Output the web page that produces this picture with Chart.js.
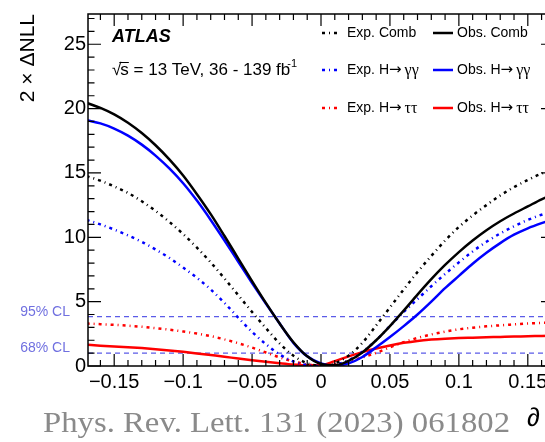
<!DOCTYPE html>
<html>
<head>
<meta charset="utf-8">
<script src="https://cdn.jsdelivr.net/npm/chart.js"></script>
<style>
html, body { margin: 0; padding: 0; overflow: hidden; background: #fff; }
#wrap { position: relative; width: 600px; height: 442px; }
</style>
</head>
<body>
<div id="wrap"><canvas id="nllChart" width="600" height="442"></canvas></div>
<script>
// scan points (x axis)
const xValues = [-0.17, -0.16, -0.15, -0.14, -0.13, -0.12, -0.11, -0.10, -0.09, -0.08, -0.07, -0.06,
    -0.05, -0.04, -0.03, -0.02, -0.01, 0.00, 0.01, 0.02, 0.03, 0.04, 0.05, 0.06, 0.07, 0.08, 0.09,
    0.10, 0.11, 0.12, 0.13, 0.14, 0.15, 0.16, 0.17];

// 2 x deltaNLL
const expComb = [14.75, 14.4, 13.95, 13.45, 12.8, 12.05, 11.2, 10.25, 9.2, 8.05, 6.8, 5.5,
    4.2, 2.95, 1.75, 0.8, 0.22, 0.0, 0.2, 0.8, 1.8, 3.15, 4.55, 5.95, 7.3, 8.55, 9.75,
    10.8, 11.7, 12.5, 13.25, 13.9, 14.45, 14.95, 15.3];
const obsComb = [20.45, 20.05, 19.55, 18.9, 18.1, 17.15, 16.05, 14.8, 13.35, 11.8, 10.1, 8.35,
    6.6, 4.9, 3.3, 1.85, 0.75, 0.15, 0.05, 0.4, 1.05, 2.0, 3.1, 4.3, 5.55, 6.75, 7.85,
    8.85, 9.75, 10.55, 11.25, 11.85, 12.4, 12.95, 13.4];
const expGG = [11.35, 11.0, 10.6, 10.15, 9.65, 9.05, 8.4, 7.65, 6.85, 5.95, 4.9, 3.75,
    2.65, 1.7, 0.9, 0.35, 0.07, 0.0, 0.1, 0.45, 1.1, 2.0, 3.1, 4.2, 5.2, 6.2, 7.15,
    8.05, 8.9, 9.65, 10.3, 10.85, 11.35, 11.75, 12.05];
const obsGG = [19.1, 18.85, 18.45, 17.9, 17.2, 16.35, 15.35, 14.2, 12.85, 11.35, 9.75, 8.1,
    6.45, 4.85, 3.3, 1.8, 0.75, 0.2, 0.02, 0.2, 0.7, 1.45, 2.25, 3.1, 4.0, 5.0, 6.05,
    7.0, 7.95, 8.8, 9.55, 10.2, 10.7, 11.1, 11.45];
const expTT = [3.3, 3.25, 3.2, 3.13, 3.05, 2.94, 2.82, 2.68, 2.52, 2.32, 2.07, 1.77,
    1.43, 1.05, 0.67, 0.35, 0.12, 0.0, 0.12, 0.35, 0.67, 1.02, 1.45, 1.85, 2.18, 2.45, 2.67,
    2.85, 2.98, 3.08, 3.16, 3.23, 3.3, 3.35, 3.38];
const obsTT = [1.65, 1.58, 1.52, 1.46, 1.39, 1.31, 1.21, 1.1, 0.98, 0.85, 0.72, 0.58,
    0.45, 0.33, 0.22, 0.12, 0.05, 0.06, 0.38, 0.75, 1.08, 1.36, 1.6, 1.8, 1.95, 2.05, 2.12,
    2.17, 2.2, 2.23, 2.26, 2.29, 2.31, 2.34, 2.36];

const yTicks = [0, 5, 10, 15, 20, 25];
const xTicks = [-0.15, -0.1, -0.05, 0, 0.05, 0.1, 0.15];
const clLevels = [3.84, 1.0];
const clLabels = ['95% CL', '68% CL'];

const dashExp = [3, 4, 1, 4];

function series(vals) {
    return vals.map((v, i) => ({ x: xValues[i], y: v }));
}

// legend entries: [prefix, greek part]
const legendText = [
    ['Exp. Comb', ''], ['Obs. Comb', ''],
    ['Exp. H', '\u03b3\u03b3'], ['Obs. H', '\u03b3\u03b3'],
    ['Exp. H', '\u03c4\u03c4'], ['Obs. H', '\u03c4\u03c4']
];

const atlasDecor = {
    id: 'atlasDecor',
    beforeDatasetsDraw(chart) {
        const { ctx, chartArea: a, scales: { y } } = chart;
        ctx.save();
        clLevels.forEach((lv, i) => {
            const py = y.getPixelForValue(lv);
            ctx.strokeStyle = '#5b5be8';
            ctx.lineWidth = 1.4;
            ctx.setLineDash([5, 4]);
            ctx.beginPath();
            ctx.moveTo(a.left, py);
            ctx.lineTo(a.right, py);
            ctx.stroke();
            ctx.setLineDash([]);
            ctx.fillStyle = '#7070e0';
            ctx.font = '14px "Liberation Sans", Arial, sans-serif';
            ctx.textAlign = 'right';
            ctx.textBaseline = 'alphabetic';
            ctx.fillText(clLabels[i], 70, py - 1);
        });
        ctx.restore();
    },
    afterDraw(chart) {
        const { ctx, chartArea: a, scales: { x, y } } = chart;
        ctx.save();

        // frame
        ctx.strokeStyle = '#000';
        ctx.lineWidth = 1.5;
        ctx.strokeRect(a.left, a.top, a.right - a.left, a.bottom - a.top);

        // inward ticks on all four sides
        ctx.lineWidth = 1.2;
        ctx.beginPath();
        for (let v = 0; v <= 27; v++) {
            const py = y.getPixelForValue(v);
            const len = v % 5 === 0 ? 13 : 6.5;
            ctx.moveTo(a.left, py); ctx.lineTo(a.left + len, py);
            ctx.moveTo(a.right, py); ctx.lineTo(a.right - len, py);
        }
        for (let k = -16; k <= 16; k++) {
            const px = x.getPixelForValue(k / 100);
            const len = k % 5 === 0 ? 12 : 6;
            ctx.moveTo(px, a.bottom); ctx.lineTo(px, a.bottom - len);
            ctx.moveTo(px, a.top); ctx.lineTo(px, a.top + len);
        }
        ctx.stroke();

        // y axis title
        ctx.save();
        ctx.translate(34, a.top);
        ctx.rotate(-Math.PI / 2);
        ctx.fillStyle = '#000';
        ctx.font = '21px "Liberation Sans", Arial, sans-serif';
        ctx.textAlign = 'right';
        ctx.textBaseline = 'alphabetic';
        ctx.fillText('2 \u00d7 \u0394NLL', 0, 0);
        ctx.restore();

        // ATLAS label
        ctx.fillStyle = '#000';
        ctx.textAlign = 'left';
        ctx.textBaseline = 'alphabetic';
        ctx.font = 'italic bold 18px "Liberation Sans", Arial, sans-serif';
        ctx.fillText('ATLAS', 112, 42);

        ctx.font = '17px "Liberation Sans", Arial, sans-serif';
        let tx = 112;
        ctx.fillText('\u221a', tx, 75);
        tx += ctx.measureText('\u221a').width - 1;
        const sw = ctx.measureText('s').width;
        ctx.fillText('s', tx, 75);
        ctx.lineWidth = 1;
        ctx.beginPath();
        ctx.moveTo(tx - 1, 62.5); ctx.lineTo(tx + sw, 62.5);
        ctx.stroke();
        tx += sw;
        const rest = ' = 13 TeV, 36 - 139 fb';
        ctx.fillText(rest, tx, 75);
        tx += ctx.measureText(rest).width;
        ctx.font = '11px "Liberation Sans", Arial, sans-serif';
        ctx.fillText('-1', tx - 3, 67);

        // legend, 3 rows x 2 columns
        const ds = chart.data.datasets;
        const rowY = [33, 70, 108];
        const lineX = [[322, 338], [433, 453]];
        const textX = [347, 457];
        ds.forEach((d, i) => {
            const row = Math.floor(i / 2), col = i % 2;
            const py = rowY[row];
            ctx.strokeStyle = d.borderColor;
            ctx.lineWidth = d.borderWidth;
            ctx.setLineDash(d.borderDash || []);
            ctx.beginPath();
            ctx.moveTo(lineX[col][0], py); ctx.lineTo(lineX[col][1], py);
            ctx.stroke();
            ctx.setLineDash([]);
            ctx.fillStyle = '#000';
            ctx.textBaseline = 'middle';
            ctx.font = '14px "Liberation Sans", Arial, sans-serif';
            const [pre, greek] = legendText[i];
            ctx.fillText(pre, textX[col], py);
            if (greek) {
                let gx = textX[col] + ctx.measureText(pre).width;
                ctx.font = '15px "DejaVu Sans", sans-serif';
                ctx.fillText('\u2192', gx, py);
                gx += ctx.measureText('\u2192').width + 3;
                ctx.font = '16px "Liberation Serif", "Times New Roman", serif';
                ctx.fillText(greek, gx, py + 1);
            }
        });

        // journal reference under the plot
        ctx.textBaseline = 'alphabetic';
        ctx.fillStyle = '#8a8a8a';
        ctx.font = '30px "Liberation Serif", "Times New Roman", serif';
        const ref = 'Phys. Rev. Lett. 131 (2023) 061802';
        const rw = ctx.measureText(ref).width;
        ctx.save();
        ctx.translate(43, 432);
        ctx.scale(467 / rw, 1);
        ctx.fillText(ref, 0, 0);
        ctx.restore();

        // start of the x axis title (cut off at the right edge)
        ctx.fillStyle = '#000';
        ctx.font = '26px "Liberation Sans", Arial, sans-serif';
        ctx.fillText('\u2202', 527, 426);

        ctx.restore();
    }
};

const ctx = document.getElementById('nllChart').getContext('2d');
new Chart(ctx, {
    type: 'line',
    data: {
        datasets: [
            { label: 'Exp. Comb', data: series(expComb), borderColor: '#000000', borderWidth: 2.5, borderDash: dashExp },
            { label: 'Obs. Comb', data: series(obsComb), borderColor: '#000000', borderWidth: 2.5 },
            { label: 'Exp. H\u2192\u03b3\u03b3', data: series(expGG), borderColor: '#0000ff', borderWidth: 2.5, borderDash: dashExp },
            { label: 'Obs. H\u2192\u03b3\u03b3', data: series(obsGG), borderColor: '#0000ff', borderWidth: 2.5 },
            { label: 'Exp. H\u2192\u03c4\u03c4', data: series(expTT), borderColor: '#ff0000', borderWidth: 2.5, borderDash: dashExp },
            { label: 'Obs. H\u2192\u03c4\u03c4', data: series(obsTT), borderColor: '#ff0000', borderWidth: 2.5 }
        ]
    },
    options: {
        responsive: false,
        animation: false,
        devicePixelRatio: 1,
        layout: { padding: { left: 0, top: 5, right: 46, bottom: 0 } },
        elements: {
            point: { radius: 0 },
            line: { cubicInterpolationMode: 'monotone', fill: false }
        },
        plugins: {
            legend: { display: false },
            tooltip: { enabled: false }
        },
        scales: {
            x: {
                type: 'linear',
                min: -0.169,
                max: 0.169,
                grid: { display: false, drawTicks: false },
                border: { display: false },
                afterBuildTicks: s => { s.ticks = xTicks.map(v => ({ value: v })); },
                afterFit: s => { s.height = 76; },
                ticks: {
                    color: '#000',
                    padding: 4,
                    maxRotation: 0,
                    autoSkip: false,
                    font: { family: '"Liberation Sans", Arial, sans-serif', size: 20 },
                    callback: v => {
                        if (Math.abs(v) < 1e-9) return '0';
                        const s = String(Math.round(Math.abs(v) * 100) / 100);
                        return v < 0 ? '\u2212' + s : s;
                    }
                }
            },
            y: {
                min: 0,
                max: 27.35,
                grid: { display: false, drawTicks: false },
                border: { display: false },
                afterBuildTicks: s => { s.ticks = yTicks.map(v => ({ value: v })); },
                afterFit: s => { s.width = 88; },
                ticks: {
                    color: '#000',
                    padding: 2,
                    font: { family: '"Liberation Sans", Arial, sans-serif', size: 20 }
                }
            }
        }
    },
    plugins: [atlasDecor]
});
</script>
</body>
</html>
